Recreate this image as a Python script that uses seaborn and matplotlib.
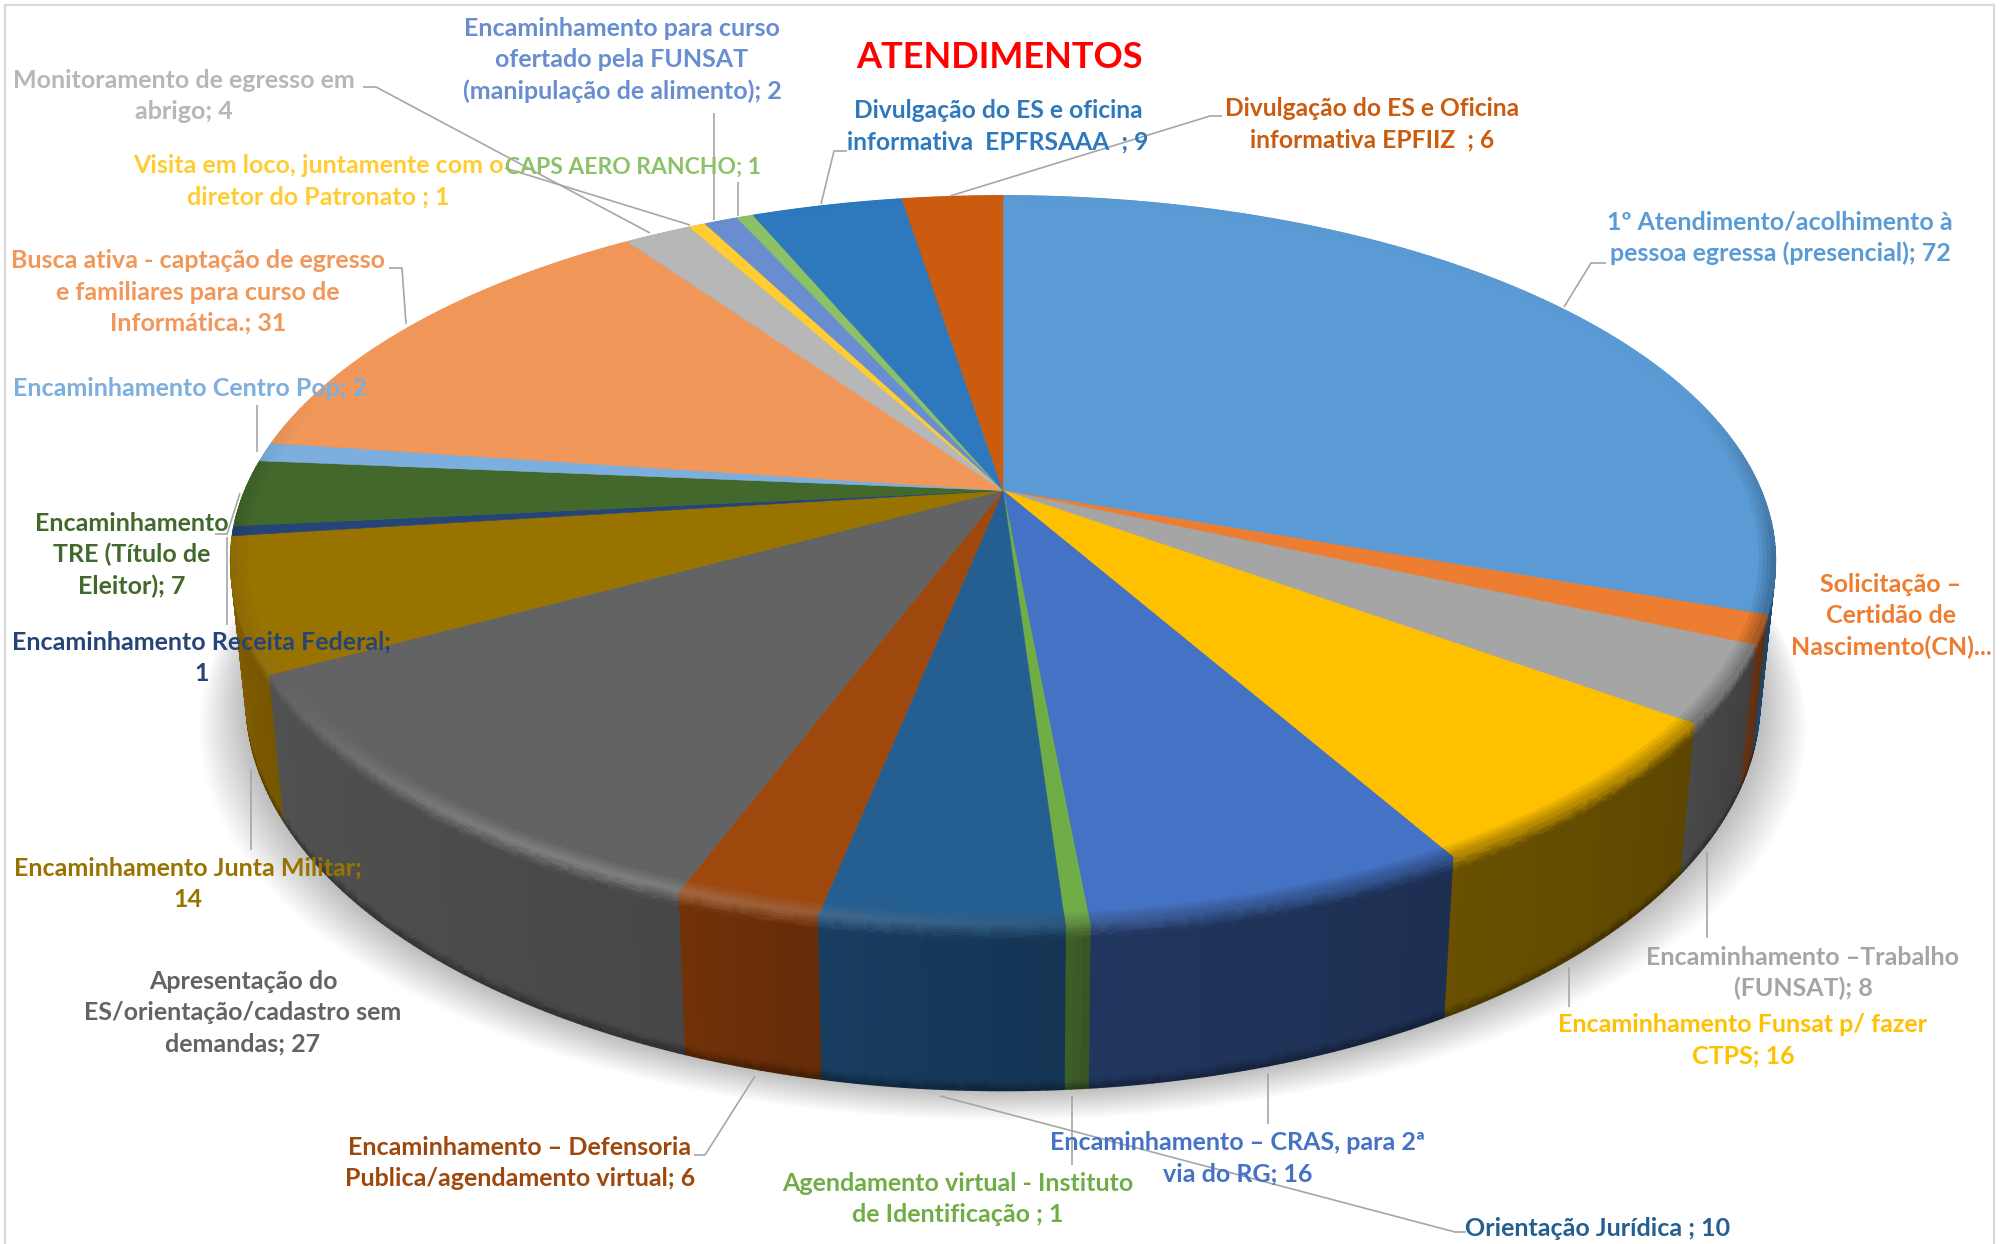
import numpy as np
import matplotlib
matplotlib.use("Agg")
import matplotlib.pyplot as plt
from matplotlib.collections import PolyCollection
from matplotlib.patches import Polygon
import seaborn as sns

title = "ATENDIMENTOS"

values = [72, 3, 8, 16, 16, 1, 10, 6, 27, 14, 1, 7, 2, 31, 4, 1, 2, 1, 9, 6]

labels = [
    "1º Atendimento/acolhimento à\npessoa egressa (presencial); 72",
    "Solicitação –\nCertidão de\nNascimento(CN)...",
    "Encaminhamento –Trabalho\n(FUNSAT); 8",
    "Encaminhamento Funsat p/ fazer\nCTPS; 16",
    "Encaminhamento – CRAS, para 2ª\nvia do RG; 16",
    "Agendamento virtual - Instituto\nde Identificação ; 1",
    "Orientação Jurídica ; 10",
    "Encaminhamento – Defensoria\nPublica/agendamento virtual; 6",
    "Apresentação do\nES/orientação/cadastro sem\ndemandas; 27",
    "Encaminhamento Junta Militar;\n14",
    "Encaminhamento Receita Federal;\n1",
    "Encaminhamento\nTRE (Título de\nEleitor); 7",
    "Encaminhamento Centro Pop; 2",
    "Busca ativa - captação de egresso\ne familiares para curso de\nInformática.; 31",
    "Monitoramento de egresso em\nabrigo; 4",
    "Visita em loco, juntamente com o\ndiretor do Patronato ; 1",
    "Encaminhamento para curso\nofertado pela FUNSAT\n(manipulação de alimento); 2",
    "CAPS AERO RANCHO; 1",
    "Divulgação do ES e oficina\ninformativa  EPFRSAAA  ; 9",
    "Divulgação do ES e Oficina\ninformativa EPFIIZ  ; 6",
]

top_colors = ["#5B9BD5", "#ED7D31", "#A5A5A5", "#FFC000", "#4472C4", "#70AD47", "#255E91",
              "#9E480E", "#636363", "#997300", "#264478", "#43682B", "#7CAFDD", "#F1975A",
              "#B7B7B7", "#FFCD33", "#698ED0", "#8CC168", "#2E79BD", "#CB5C0F"]
wall_colors = ["#1F3F5F", "#5E3214", "#444444", "#634B00", "#1F3358", "#3B5A25", "#16395A",
               "#6B2F08", "#4C4C4C", "#7F5C00", "#1A2F52", "#2C451C", "#527599", "#A0663E",
               "#7A7A7A", "#AA8822", "#46608C", "#5E8246", "#1F5380", "#88400A"]

# label centres, in pixels of the picture
label_pos = [(1780, 238), (1891, 616), (1803, 973), (1743, 1040), (1238, 1158), (958, 1199),
             (1598, 1229), (520, 1163), (243, 1013), (188, 884), (202, 658), (132, 555),
             (190, 389), (198, 292), (184, 96), (318, 181), (622, 60), (633, 167),
             (998, 126), (1372, 124)]
label_sizes = [18] * 17 + [16.5] + [17.7] * 2

leaders = [
    [(1606, 263), (1591, 263), (1564, 307)],
    [(1707, 852), (1707, 938)],
    [(1569, 967), (1569, 1007)],
    [(1268, 1073), (1268, 1124)],
    [(1072, 1096), (1072, 1165)],
    [(940, 1096), (1455, 1232), (1466, 1232)],
    [(755, 1076), (705, 1155), (694, 1155)],
    [(251, 769), (251, 850)],
    [(227, 537), (227, 625)],
    [(215, 534), (227, 534), (240, 493)],
    [(257, 405), (257, 452)],
    [(389, 268), (402, 268), (406, 324)],
    [(363, 87), (376, 87), (650, 233)],
    [(505, 168), (690, 225)],
    [(714, 113), (714, 220)],
    [(738, 182), (738, 216)],
    [(847, 151), (834, 151), (821, 204)],
    [(1222, 116), (1210, 116), (950, 196)],
]

# projection of the disc
cx, cy = 1003, 490.5
rx, ry, depth = 758, 351, 134
persp = 0.1916
shrink = 0.02
bevel = 0.98


def project(theta, r=1.0, z=0.0):
    t = np.radians(theta)
    px = r * np.sin(t)
    py = r * np.cos(t)
    w = 1 + persp * py
    return cx + rx * px / w * (1 - shrink * z), cy - ry * py / w + depth * z / w


def mix(a, b, t):
    return tuple(np.array(a) * (1 - t) + np.array(b) * t)


sns.set_theme(style="white")
plt.rcParams["font.family"] = ["Lato", "DejaVu Sans"]

tops = sns.color_palette(top_colors)
walls = sns.color_palette(wall_colors)

edges = np.concatenate([[0], np.cumsum(values)]) / sum(values) * 360

fig = plt.figure(figsize=(20.08, 12.44), dpi=100)
ax = fig.add_axes([0, 0, 1, 1])
ax.set_xlim(0, 2008)
ax.set_ylim(1244, 0)
ax.axis("off")

# frame of the chart area
ax.plot([5, 5, 1994, 1994], [1244, 5, 5, 1244], color="#D9D9D9", lw=1.6, zorder=1)

# soft shadow under the disc
ring = np.linspace(0, 360, 361)
bx, by = project(ring, 1.0, 1.0)
for s in np.linspace(1, 0, 34):
    ax.add_patch(Polygon(np.column_stack([cx + (bx - cx) * (1 + 0.062 * s), by + 30 * s]),
                         closed=True, fc="black", ec="none", alpha=0.0065, zorder=2))

wall_rows = np.concatenate([np.linspace(0, 0.09, 6), np.linspace(0.09, 0.94, 5)[1:],
                            np.linspace(0.94, 1.0, 4)[1:]])
wall_quads, wall_fc, wall_y = [], [], []
ring_quads, ring_fc = [], []
for i, (a, b) in enumerate(zip(edges[:-1], edges[1:])):
    n = max(int((b - a) / 0.5), 2)
    th = np.linspace(a, b, n + 1)
    for t0, t1 in zip(th[:-1], th[1:]):
        tm = (t0 + t1) / 2
        frac = (tm - a) / (b - a)
        glow = np.exp(-((tm - 208) / 28) ** 2)
        dark = np.clip((0.3 - np.cos(np.radians(tm))) / 0.5, 0, 1)
        lit = mix(mix(tops[i], walls[i], 0.45 * dark), (1, 1, 1), 0.22 * glow)
        wall = tuple(np.clip(np.array(walls[i]) * (0.93 + 0.14 * frac), 0, 1))
        # bevel on the top face
        rr = np.linspace(bevel, 1.0, 5)
        for k in range(4):
            x0, y0 = project(np.array([t0, t1]), rr[k])
            x1, y1 = project(np.array([t1, t0]), rr[k + 1])
            ring_quads.append(np.column_stack([np.r_[x0, x1], np.r_[y0, y1]]))
            ring_fc.append(mix(tops[i], lit, (k + 1) / 4))
        # side wall, rows from the rim to the floor
        for z0, z1 in zip(wall_rows[:-1], wall_rows[1:]):
            zm = (z0 + z1) / 2
            x0, y0 = project(np.array([t0, t1]), 1.0, z0)
            x1, y1 = project(np.array([t1, t0]), 1.0, z1)
            wall_quads.append(np.column_stack([np.r_[x0, x1], np.r_[y0, y1]]))
            col = wall
            if zm < 0.09:
                col = mix(lit, wall, min(zm / 0.09, 1))
            elif zm > 0.94:
                col = mix(wall, (0, 0, 0), 0.35 * (zm - 0.94) / 0.06)
            wall_fc.append(col)
            wall_y.append(np.cos(np.radians(tm)))

order = np.argsort(wall_y)[::-1]
ax.add_collection(PolyCollection([wall_quads[j] for j in order],
                                 facecolors=[wall_fc[j] for j in order],
                                 edgecolors=[wall_fc[j] for j in order], linewidths=1.2, zorder=3))

# top face
for i, (a, b) in enumerate(zip(edges[:-1], edges[1:])):
    th = np.linspace(a, b, max(int(b - a) * 2, 2) + 1)
    x, y = project(th, bevel)
    ax.add_patch(Polygon(np.column_stack([np.r_[cx, x], np.r_[cy, y]]), closed=True,
                         fc=tops[i], ec=tops[i], lw=0.4, zorder=4))
ax.add_collection(PolyCollection(ring_quads, facecolors=ring_fc, edgecolors=ring_fc,
                                 linewidths=0.6, zorder=5))

for pts in leaders:
    xs, ys = zip(*pts)
    ax.plot(xs, ys, color="#A6A6A6", lw=1.2, zorder=6, solid_capstyle="butt")

for text, (tx, ty), col, size in zip(labels, label_pos, tops, label_sizes):
    ax.text(tx, ty, text, color=col, fontsize=size, fontweight="bold", ha="center", va="center",
            linespacing=1.43, zorder=7)

ax.text(1000, 57, title, color="#FF0000", fontsize=26, fontweight="bold", ha="center",
        va="center", zorder=7)

fig.savefig("out.png", dpi=100)
plt.close(fig)
